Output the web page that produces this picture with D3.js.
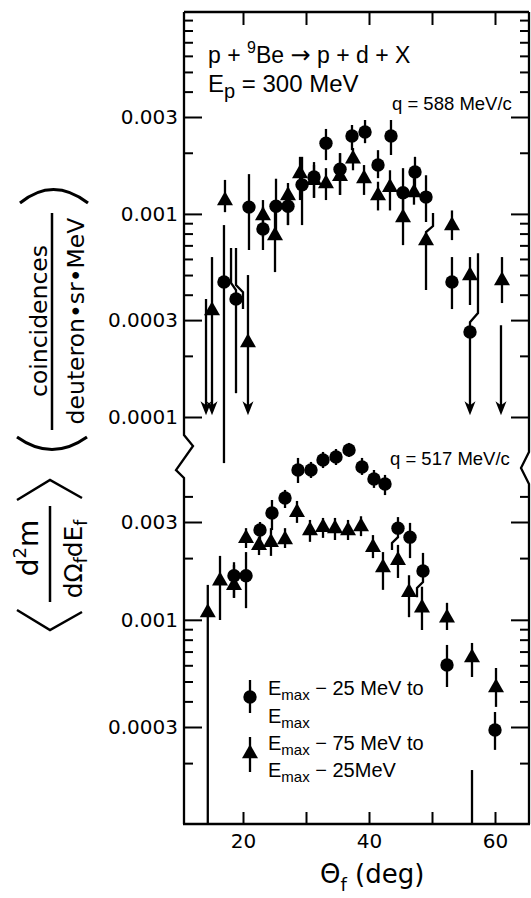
<!DOCTYPE html>
<html>
<head>
<meta charset="utf-8">
<script src="https://cdnjs.cloudflare.com/ajax/libs/d3/7.8.5/d3.min.js"></script>
<style>
  body { margin: 0; background: #fff; }
  svg text { fill: #000; }
  .axis line { stroke: #000; stroke-width: 2; }
  .axis text { font-family: "DejaVu Sans", sans-serif; font-size: 20px; }
  .inner { font-family: "Liberation Sans", Arial, sans-serif; }
  .title { font-family: "DejaVu Sans", sans-serif; }
</style>
</head>
<body>
<div id="chart"></div>
<script>
// rows: [theta_f (deg), value, top of error bar, bottom of error bar]
// bottom "lim" = upper limit with an arrow, value null = no point drawn

// q = 588 MeV/c, Emax-25 MeV to Emax
var upperCircles = [
  [14.13, null, 0.000381, "lim"],
  [16.98, 0.000462, 0.000881, 0.0000593],
  [18.89, 0.000381, 0.000381, 0.000131],
  [20.95, 0.00108, 0.00157, 0.000664],
  [23.17, 0.000842, 0.00108, 0.000664],
  [25.24, 0.00109, 0.00149, 0.000787],
  [27.14, 0.00109, 0.00134, 0.000881],
  [29.37, 0.00139, 0.00191, 0.000881],
  [31.27, 0.00152, 0.00180, 0.00120],
  [33.17, 0.00223, 0.00262, 0.00184],
  [35.40, 0.00166, 0.00199, 0.00124],
  [37.30, 0.00242, 0.00274, 0.00206],
  [39.37, 0.00253, 0.00290, 0.00223],
  [41.43, 0.00174, 0.00206, 0.00150],
  [43.49, 0.00242, 0.00290, 0.00195],
  [45.40, 0.00127, 0.00168, 0.00104],
  [47.30, 0.00161, 0.00191, 0.00131],
  [49.05, 0.00121, 0.00155, 0.000912],
  [53.17, 0.000462, 0.000613, 0.000340],
  [56.03, 0.000262, 0.000262, "lim"],
  [60.95, null, 0.000283, "lim"]
];

// q = 588 MeV/c, Emax-75 MeV to Emax-25 MeV
var upperTriangles = [
  [15.08, 0.000336, 0.000613, "lim"],
  [17.14, 0.00117, 0.00147, 0.00102],
  [20.79, 0.000234, 0.000500, "lim"],
  [23.17, 0.000987, 0.00117, 0.000769],
  [25.08, 0.000787, 0.00109, 0.000517],
  [27.14, 0.00124, 0.00142, 0.000881],
  [29.05, 0.00159, 0.00191, 0.00117],
  [31.27, 0.00147, 0.00174, 0.00120],
  [33.17, 0.00142, 0.00168, 0.00117],
  [35.40, 0.00154, 0.00199, 0.00124],
  [37.46, 0.00188, 0.00211, 0.00164],
  [39.21, 0.00150, 0.00174, 0.00124],
  [41.43, 0.00124, 0.00144, 0.00104],
  [43.33, 0.00136, 0.00164, 0.00104],
  [45.40, 0.000965, 0.00127, 0.000702],
  [47.14, 0.00128, 0.00150, 0.00111],
  [49.05, 0.000743, 0.000743, 0.000422],
  [53.17, 0.000881, 0.00104, 0.000743],
  [56.03, 0.000500, 0.000613, 0.000356],
  [61.11, 0.000472, 0.000613, 0.000364]
];

// q = 517 MeV/c, Emax-25 MeV to Emax
var lowerCircles = [
  [18.57, 0.00164, 0.00191, 0.00128],
  [20.48, 0.00164, 0.00214, 0.00114],
  [22.70, 0.00274, 0.00300, 0.00232],
  [24.60, 0.00332, 0.00384, 0.00274],
  [26.67, 0.00393, 0.00430, 0.00351],
  [28.73, 0.00538, 0.00616, 0.00465],
  [30.79, 0.00538, 0.00589, 0.00492],
  [32.70, 0.00602, 0.00659, 0.00550],
  [34.76, 0.00623, 0.00681, 0.00569],
  [36.83, 0.00674, 0.00729, 0.00623],
  [38.89, 0.00556, 0.00616, 0.00509],
  [40.79, 0.00486, 0.00538, 0.00440],
  [42.54, 0.00460, 0.00509, 0.00406],
  [44.60, 0.00280, 0.00317, 0.00280],
  [46.51, 0.00253, 0.00297, 0.00200],
  [48.57, 0.00173, 0.00212, 0.00173],
  [52.38, 0.000602, 0.000754, 0.000470],
  [56.35, null, 0.000185, 0.0001],
  [60.00, 0.000290, 0.000355, 0.000232]
];

// q = 517 MeV/c, Emax-75 MeV to Emax-25 MeV
var lowerTriangles = [
  [14.41, 0.00109, 0.00148, 0.0001],
  [16.35, 0.00156, 0.00205, 0.000998],
  [18.57, 0.00148, 0.00185, 0.00128],
  [20.48, 0.00251, 0.00280, 0.00224],
  [22.54, 0.00232, 0.00253, 0.00207],
  [24.44, 0.00240, 0.00280, 0.00205],
  [26.67, 0.00248, 0.00280, 0.00224],
  [28.57, 0.00336, 0.00380, 0.00297],
  [30.63, 0.00274, 0.00307, 0.00240],
  [32.70, 0.00284, 0.00314, 0.00251],
  [34.60, 0.00280, 0.00314, 0.00245],
  [36.67, 0.00274, 0.00307, 0.00245],
  [38.73, 0.00287, 0.00320, 0.00256],
  [40.63, 0.00227, 0.00259, 0.00200],
  [42.22, 0.00181, 0.00214, 0.00140],
  [44.60, 0.00196, 0.00232, 0.00160],
  [46.35, 0.00137, 0.00165, 0.00103],
  [48.41, 0.00115, 0.00145, 0.000892],
  [52.38, 0.00103, 0.00121, 0.000892],
  [56.35, 0.000659, 0.000771, 0.000526],
  [60.16, 0.000470, 0.000582, 0.000376]
];

// error bars drawn shifted to the side: [theta start, theta end, v1, v2, v3, v4]
var upperJogs = [
  [57.30, 56.03, 0.000641, 0.000325, 0.000293, 0.000262],
  [50.16, 49.05, 0.00101, 0.000871, 0.000814, 0.000743],
  [18.10, 18.89, 0.000679, 0.000457, 0.000422, 0.000381],
  [18.89, 20.00, 0.000679, 0.000446, 0.000412, 0.000340]
];
var lowerJogs = [
  [44.60, 43.65, 0.00280, 0.00253, 0.00237, 0.00219],
  [48.57, 47.62, 0.00173, 0.00153, 0.00143, 0.00129]
];

var upperTickValues = [0.003, 0.001, 0.0003, 0.0001];
var upperTickLabels = ["0.003", "0.001", "0.0003", "0.0001"];
var upperMinorTicks = [0.009, 0.008, 0.007, 0.006, 0.005, 0.004, 0.002,
  0.0009, 0.0008, 0.0007, 0.0006, 0.0005, 0.0004, 0.0002];
var lowerTickValues = [0.003, 0.001, 0.0003];
var lowerTickLabels = ["0.003", "0.001", "0.0003"];
var lowerMinorTicks = [0.004, 0.002, 0.0009, 0.0008, 0.0007, 0.0006, 0.0005, 0.0004, 0.0002];
var xTickValues = [20, 30, 40, 50, 60];
var xTickLabels = ["20", "", "40", "", "60"];

var width = 531;
var height = 898;

// frame edges
var frameLeft = 184;
var frameRight = 529;
var frameTop = 12;
var frameBottom = 824;

var arrowTip = 0.000102;
var lineW = 2.3;

var svg = d3.select("#chart").append("svg")
  .attr("width", width)
  .attr("height", height);

var xScale = d3.scaleLinear().domain([20, 60]).range([243, 495]);
var yUpper = d3.scaleLog().domain([0.0001, 0.003]).range([417, 117]);
var yLower = d3.scaleLog().domain([0.0003, 0.003]).range([727, 522]);

// frame with the axis breaks
var frame = svg.append("g")
  .attr("fill", "none")
  .attr("stroke", "#000")
  .attr("stroke-width", lineW);
frame.append("path").attr("d",
  "M" + frameLeft + "," + frameTop + "L" + frameLeft + ",435L193,446L176,470L" + frameLeft + ",478L" + frameLeft + "," + frameBottom);
frame.append("path").attr("d",
  "M" + frameRight + "," + frameTop + "L" + frameRight + ",452L521,468L" + frameRight + ",484L" + frameRight + "," + frameBottom);
frame.append("path").attr("d", "M" + frameLeft + "," + frameTop + "H" + frameRight);
frame.append("path").attr("d", "M" + (frameLeft - 1) + "," + frameBottom + "H" + (frameRight + 1));

function yAxes(scale, major, labels, minor) {
  svg.append("g").attr("class", "axis")
    .attr("transform", "translate(" + frameLeft + ",0)")
    .call(d3.axisLeft(scale).tickValues(major).tickSize(-18).tickPadding(6)
      .tickFormat(function(d, i) { return labels[i]; }));
  svg.append("g").attr("class", "axis")
    .attr("transform", "translate(" + frameLeft + ",0)")
    .call(d3.axisLeft(scale).tickValues(minor).tickSize(-9).tickFormat(""));
  svg.append("g").attr("class", "axis")
    .attr("transform", "translate(" + frameRight + ",0)")
    .call(d3.axisRight(scale).tickValues(major).tickSize(-18).tickFormat(""));
  svg.append("g").attr("class", "axis")
    .attr("transform", "translate(" + frameRight + ",0)")
    .call(d3.axisRight(scale).tickValues(minor).tickSize(-9).tickFormat(""));
}
yAxes(yUpper, upperTickValues, upperTickLabels, upperMinorTicks);
yAxes(yLower, lowerTickValues, lowerTickLabels, lowerMinorTicks);

svg.append("g").attr("class", "axis")
  .attr("transform", "translate(0," + frameBottom + ")")
  .call(d3.axisBottom(xScale).tickValues(xTickValues).tickSize(-12).tickPadding(10)
    .tickFormat(function(d, i) { return xTickLabels[i]; }));
svg.append("g").attr("class", "axis")
  .attr("transform", "translate(0," + frameTop + ")")
  .call(d3.axisTop(xScale).tickValues(xTickValues).tickSize(-13).tickFormat(""));

svg.selectAll(".axis .domain").remove();

function marker(g, shape, x, y) {
  if (shape === "circle") {
    g.append("circle").attr("cx", x).attr("cy", y).attr("r", 6.7).attr("fill", "#000");
  } else {
    g.append("path").attr("d", "M0,-8.8L8,5.2L-8,5.2Z")
      .attr("transform", "translate(" + x + "," + y + ")")
      .attr("fill", "#000");
  }
}

function drawPoints(rows, scale, shape) {
  var g = svg.append("g");
  rows.forEach(function(r) {
    var x = xScale(r[0]);
    var y1 = scale(r[2]);
    var lim = r[3] === "lim";
    var y2 = lim ? scale(arrowTip) : scale(r[3]);
    g.append("line")
      .attr("x1", x).attr("x2", x)
      .attr("y1", y1).attr("y2", lim ? y2 - 8 : y2)
      .attr("stroke", "#000").attr("stroke-width", lineW);
    if (lim) {
      g.append("path").attr("d", "M-5.5,-14L0,0L5.5,-14L0,-10Z")
        .attr("transform", "translate(" + x + "," + y2 + ")")
        .attr("fill", "#000");
    }
  });
  rows.forEach(function(r) {
    if (r[1] !== null) marker(g, shape, xScale(r[0]), scale(r[1]));
  });
}

function drawJogs(rows, scale) {
  svg.append("g").selectAll("path").data(rows).enter()
    .append("path")
    .attr("d", function(d) {
      return "M" + xScale(d[0]) + "," + scale(d[2]) + "L" + xScale(d[0]) + "," + scale(d[3]) +
        "L" + xScale(d[1]) + "," + scale(d[4]) + "L" + xScale(d[1]) + "," + scale(d[5]);
    })
    .attr("fill", "none").attr("stroke", "#000").attr("stroke-width", lineW);
}

drawJogs(upperJogs, yUpper);
drawJogs(lowerJogs, yLower);
drawPoints(upperTriangles, yUpper, "triangle");
drawPoints(upperCircles, yUpper, "circle");
drawPoints(lowerTriangles, yLower, "triangle");
drawPoints(lowerCircles, yLower, "circle");

// reaction labels
var t1 = svg.append("text").attr("class", "inner").attr("x", 208).attr("y", 63).style("font-size", "23px");
t1.append("tspan").text("p + ");
t1.append("tspan").attr("dy", -10).style("font-size", "16px").text("9");
t1.append("tspan").attr("dy", 10).text("Be ");
t1.append("tspan").style("font-family", "DejaVu Sans").style("font-size", "24px").text("\u2192");
t1.append("tspan").text(" p + d + X");

var t2 = svg.append("text").attr("class", "inner").attr("x", 208).attr("y", 92).style("font-size", "24px");
t2.append("tspan").text("E");
t2.append("tspan").attr("dy", 6).style("font-size", "20px").text("p");
t2.append("tspan").attr("dy", -6).text(" = 300 MeV");

svg.append("text").attr("class", "inner").attr("x", 392).attr("y", 110)
  .style("font-size", "18.5px").text("q = 588 MeV/c");
svg.append("text").attr("class", "inner").attr("x", 390).attr("y", 465)
  .style("font-size", "18.5px").text("q = 517 MeV/c");

// legend
var legend = svg.append("g");
legend.append("line").attr("x1", 250).attr("x2", 250).attr("y1", 680).attr("y2", 713)
  .attr("stroke", "#000").attr("stroke-width", lineW);
marker(legend, "circle", 250, 697);
legend.append("line").attr("x1", 250).attr("x2", 250).attr("y1", 737).attr("y2", 772)
  .attr("stroke", "#000").attr("stroke-width", lineW);
marker(legend, "triangle", 250, 753);

function emaxLine(x, y, rest) {
  var t = legend.append("text").attr("class", "inner").attr("x", x).attr("y", y).style("font-size", "20px");
  t.append("tspan").text("E");
  t.append("tspan").attr("dy", 5).style("font-size", "15px").text("max");
  if (rest) t.append("tspan").attr("dy", -5).text(rest);
}
emaxLine(268, 695, " \u2212 25 MeV to");
emaxLine(268, 723, "");
emaxLine(268, 750, " \u2212 75 MeV to");
emaxLine(268, 777, " \u2212 25MeV");

// x axis title
var xt = svg.append("text").attr("class", "title").attr("x", 320).attr("y", 883).style("font-size", "26px");
xt.append("tspan").text("\u0398");
xt.append("tspan").attr("dy", 8).style("font-size", "18px").text("f");
xt.append("tspan").attr("dy", -8).text(" (deg)");

// upper y title
var yt = svg.append("g").attr("class", "title");
yt.append("text").attr("transform", "translate(47,321) rotate(-90)")
  .attr("text-anchor", "middle").style("font-size", "23.5px").text("coincidences");
yt.append("text").attr("transform", "translate(84,321) rotate(-90)")
  .attr("text-anchor", "middle").style("font-size", "23.5px").text("deuteron\u2022sr\u2022MeV");
yt.append("line").attr("x1", 52).attr("x2", 52).attr("y1", 213).attr("y2", 430)
  .attr("stroke", "#000").attr("stroke-width", 2.5);
yt.append("path").attr("d", "M20,203Q53,176 88,203").attr("fill", "none").attr("stroke", "#000").attr("stroke-width", 3);
yt.append("path").attr("d", "M17,437Q52,462 87,437").attr("fill", "none").attr("stroke", "#000").attr("stroke-width", 3);

// lower y title
var yl = svg.append("g").attr("class", "title");
var num = yl.append("text").attr("transform", "translate(38,548) rotate(-90)")
  .attr("text-anchor", "middle").style("font-size", "28px");
num.append("tspan").text("d");
num.append("tspan").attr("dy", -12).style("font-size", "18px").text("2");
num.append("tspan").attr("dy", 12).text("m");
var den = yl.append("text").attr("transform", "translate(82,559) rotate(-90)")
  .attr("text-anchor", "middle").style("font-size", "25px");
den.append("tspan").text("d\u03a9");
den.append("tspan").attr("dy", 5).style("font-size", "17px").text("f");
den.append("tspan").attr("dy", -5).text("dE");
den.append("tspan").attr("dy", 5).style("font-size", "17px").text("f");
yl.append("line").attr("x1", 50).attr("x2", 50).attr("y1", 506).attr("y2", 602)
  .attr("stroke", "#000").attr("stroke-width", 2.5);
yl.append("path").attr("d", "M17,500L50,480L82,498").attr("fill", "none").attr("stroke", "#000").attr("stroke-width", 2.5);
yl.append("path").attr("d", "M17,610L50,630L82,612").attr("fill", "none").attr("stroke", "#000").attr("stroke-width", 2.5);
</script>
</body>
</html>
